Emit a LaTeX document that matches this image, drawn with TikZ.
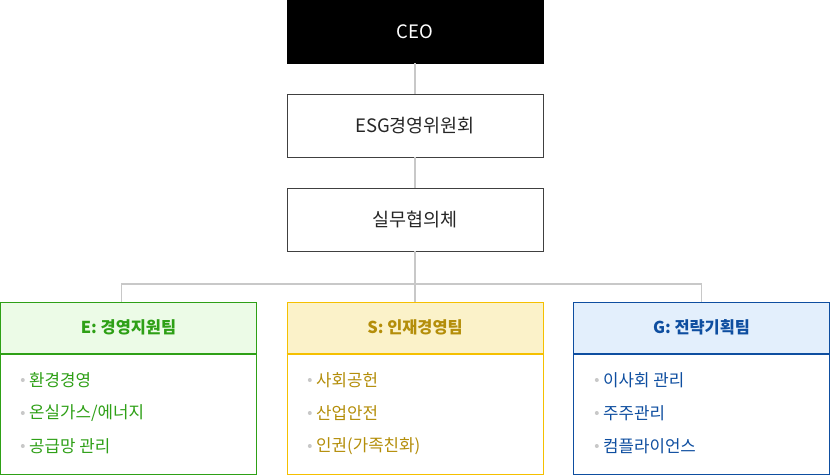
\documentclass[tikz,border=0pt]{standalone}
\usepackage{fontspec}
\setmainfont{Noto Sans CJK KR}
\usepackage{tikz}
\usetikzlibrary{positioning,calc}
\definecolor{envgreen}{RGB}{46,160,22}
\definecolor{envfill}{RGB}{236,251,231}
\definecolor{socgold}{RGB}{245,192,0}
\definecolor{socfill}{RGB}{251,242,201}
\definecolor{soctext}{RGB}{180,142,10}
\definecolor{govblue}{RGB}{14,78,160}
\definecolor{govfill}{RGB}{227,239,252}
\definecolor{linegray}{RGB}{200,200,200}

\begin{document}
\begin{tikzpicture}[x=1pt, y=1pt]
  \tikzstyle{topbox} = [rectangle, draw=black!75, fill=white, minimum width=256pt, minimum height=63pt, font=\fontsize{18.5}{22}\selectfont, text=black!85]
  \tikzstyle{teamhead} = [rectangle, draw, line width=1pt, minimum width=256pt, minimum height=51pt, font=\fontsize{16.4}{20}\selectfont\bfseries]
  \tikzstyle{teambody} = [rectangle, draw, line width=1pt, fill=white, minimum width=256pt, minimum height=121pt]
  \tikzstyle{item} = [anchor=west, inner sep=0pt, font=\fontsize{16.8}{20}\selectfont, label={[dot, xshift=-4pt]left:{}}]
  \tikzstyle{dot} = [circle, fill=linegray, inner sep=0pt, minimum size=4pt]
  \tikzstyle{link} = [draw=linegray, line width=1.6pt]

  \useasboundingbox (0,0) rectangle (830,-475);

  % top of the chart
  \node[topbox, fill=black, draw=black, text=white] (ceo) at (415,-31.5) {CEO};
  \node[topbox] (esg) at (415,-125.5) {ESG경영위원회};
  \node[topbox] (council) at (415,-219.5) {실무협의체};

  \draw[link] (ceo) -- (esg);
  \draw[link] (esg) -- (council);

  % teams
  \node[teamhead, draw=envgreen, fill=envfill, text=envgreen] (ehead) at (128.5,-327.5) {E: 경영지원팀};
  \node[teambody, draw=envgreen] (ebody) at (128.5,-413.5) {};
  \draw[envgreen, line width=2pt] (ehead.south west) -- (ehead.south east);

  \node[teamhead, draw=socgold, fill=socfill, text=soctext] (shead) at (415,-327.5) {S: 인재경영팀};
  \node[teambody, draw=socgold] (sbody) at (415,-413.5) {};
  \draw[socgold, line width=2pt] (shead.south west) -- (shead.south east);

  \node[teamhead, draw=govblue, fill=govfill, text=govblue] (ghead) at (701.5,-327.5) {G: 전략기획팀};
  \node[teambody, draw=govblue] (gbody) at (701.5,-413.5) {};
  \draw[govblue, line width=2pt] (ghead.south west) -- (ghead.south east);

  \coordinate (bus) at ($(council.south)+(0,-33)$);
  \draw[link] (council.south) -- (shead.north);
  \draw[link] ([xshift=-7pt]ehead.north) |- (bus) -| (ghead.north);

  % duties
  \node[item, text=envgreen] (e1) at (29,-380) {환경경영};
  \node[item, text=envgreen] (e2) at (29,-413) {온실가스/에너지};
  \node[item, text=envgreen] (e3) at (29,-446) {공급망 관리};

  \node[item, text=soctext] (s1) at (316,-380) {사회공헌};
  \node[item, text=soctext] (s2) at (316,-413) {산업안전};
  \node[item, text=soctext] (s3) at (316,-446) {인권(가족친화)};

  \node[item, text=govblue] (g1) at (603,-380) {이사회 관리};
  \node[item, text=govblue] (g2) at (603,-413) {주주관리};
  \node[item, text=govblue] (g3) at (603,-446) {컴플라이언스};
\end{tikzpicture}
\end{document}
